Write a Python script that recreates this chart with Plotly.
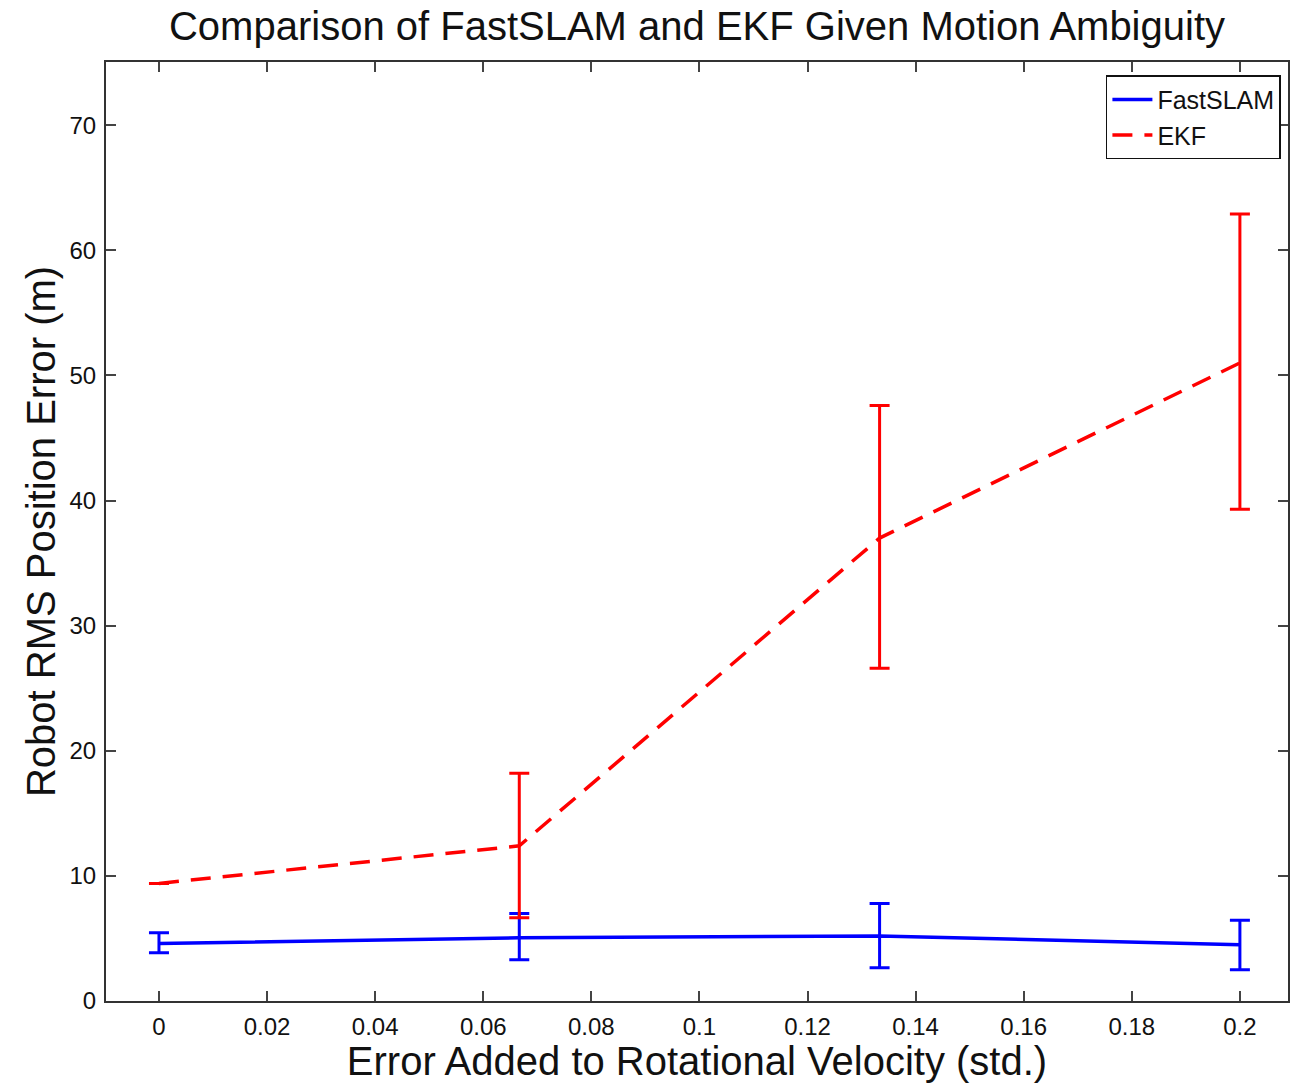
import plotly.graph_objects as go

x_vals = [0.0, 1/15, 2/15, 0.2]
fast_mean = [4.6, 5.05, 5.2, 4.5]
fast_hi = [5.45, 7.0, 7.8, 6.45]
fast_lo = [3.85, 3.3, 2.65, 2.5]
ekf_mean = [9.4, 12.4, 37.0, 51.0]
ekf_hi = [9.4, 18.2, 47.6, 62.9]
ekf_lo = [9.4, 6.65, 26.6, 39.3]

x_ticks = [0, 0.02, 0.04, 0.06, 0.08, 0.1, 0.12, 0.14, 0.16, 0.18, 0.2]
x_tick_text = ["0", "0.02", "0.04", "0.06", "0.08", "0.1", "0.12", "0.14", "0.16", "0.18", "0.2"]
y_ticks = [0, 10, 20, 30, 40, 50, 60, 70]

FONT = "Liberation Sans, Arial, Helvetica, sans-serif"

fig = go.Figure()

fig.add_trace(go.Scatter(
    x=x_vals, y=fast_mean, mode="lines", name="FastSLAM",
    line=dict(color="#0000ff", width=3.5),
    error_y=dict(type="data", symmetric=False,
                 array=[h - m for h, m in zip(fast_hi, fast_mean)],
                 arrayminus=[m - l for m, l in zip(fast_mean, fast_lo)],
                 color="#0000ff", thickness=3, width=10),
))
fig.add_trace(go.Scatter(
    x=x_vals, y=ekf_mean, mode="lines", name="EKF",
    line=dict(color="#ff0000", width=3.5, dash="20px,12px"),
    error_y=dict(type="data", symmetric=False,
                 array=[h - m for h, m in zip(ekf_hi, ekf_mean)],
                 arrayminus=[m - l for m, l in zip(ekf_mean, ekf_lo)],
                 color="#ff0000", thickness=3, width=10),
))

axis_common = dict(
    showline=True, linecolor="#333333", linewidth=2, mirror="ticks",
    ticks="inside", ticklen=10, tickwidth=1.5, tickcolor="#444444",
    showgrid=False, zeroline=False,
    tickfont=dict(family=FONT, size=24, color="#111111"),
)

fig.update_layout(
    width=1294, height=1083,
    margin=dict(l=106, r=4, t=62, b=82),
    paper_bgcolor="white", plot_bgcolor="white",
    font=dict(family=FONT, color="#111111"),
    title=dict(text="Comparison of FastSLAM and EKF Given Motion Ambiguity",
               font=dict(family=FONT, size=40, color="#111111"),
               xref="paper", x=0.5, xanchor="center", y=0.976, yanchor="middle"),
    xaxis=dict(axis_common, range=[-0.0098, 0.2089], tickvals=x_ticks, ticktext=x_tick_text,
               ticklabelstandoff=3,
               title=dict(text="Error Added to Rotational Velocity (std.)",
                          font=dict(family=FONT, size=40, color="#111111"), standoff=5)),
    yaxis=dict(axis_common, range=[0, 75.05], tickvals=y_ticks,
               ticklabelstandoff=3,
               title=dict(text="Robot RMS Position Error (m)",
                          font=dict(family=FONT, size=40, color="#111111"), standoff=1)),
    legend=dict(x=0.994, xanchor="right", y=0.986, yanchor="top",
                bgcolor="white", bordercolor="#111111", borderwidth=1.5,
                font=dict(family=FONT, size=25, color="#111111"),
                tracegroupgap=0, itemwidth=40),
    showlegend=True,
)

fig.write_html("out.html")
